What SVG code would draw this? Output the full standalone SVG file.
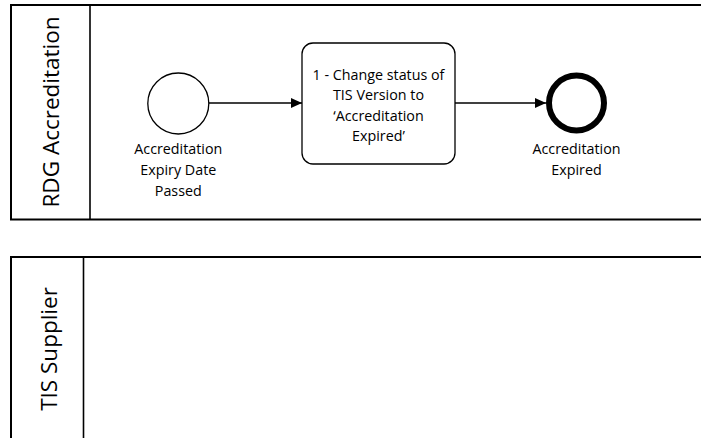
<svg xmlns="http://www.w3.org/2000/svg" width="701" height="438" viewBox="0 0 701 438">
<defs>
<style>
.lane{fill:none;stroke:#000;stroke-width:2}
.div{fill:none;stroke:#000;stroke-width:1.6}
.lt{font-family:"Open Sans",sans-serif;font-size:22.5px;fill:#000}
.t{font-family:"Open Sans",sans-serif;font-size:14.3px;fill:#000;text-anchor:middle}
.conn{fill:none;stroke:#000;stroke-width:1.3}
</style>
<marker id="ah" markerWidth="12" markerHeight="10" refX="11" refY="5" orient="auto" markerUnits="userSpaceOnUse">
<path d="M0,0 L11,5 L0,10 Z" fill="#000"/>
</marker>
</defs>
<rect width="701" height="438" fill="#fff"/>
<g id="lane-rdg">
<path class="lane" d="M710,5 H11 V219.5 H710"/>
<line class="div" x1="90" y1="5" x2="90" y2="219.5"/>
<text class="lt" transform="translate(58.5,112) rotate(-90)" text-anchor="middle">RDG Accreditation</text>
</g>
<g id="lane-tis">
<path class="lane" d="M710,257 H11 V450"/>
<line class="div" x1="83.5" y1="257" x2="83.5" y2="450"/>
<text class="lt" transform="translate(57,349) rotate(-90)" text-anchor="middle">TIS Supplier</text>
</g>
<g id="connectors">
<line class="conn" x1="209" y1="103" x2="302" y2="103" marker-end="url(#ah)"/>
<line class="conn" x1="455" y1="103" x2="546" y2="103" marker-end="url(#ah)"/>
</g>
<g id="start">
<circle cx="178.3" cy="103.5" r="30.5" fill="#fff" stroke="#000" stroke-width="1.3"/>
<text class="t"><tspan x="178.3" y="153.5">Accreditation</tspan><tspan x="178.3" y="175">Expiry Date</tspan><tspan x="178.3" y="196">Passed</tspan></text>
</g>
<g id="task1">
<rect x="302" y="43" width="153" height="121" rx="11" fill="#fff" stroke="#000" stroke-width="1.3"/>
<text class="t"><tspan x="378.5" y="79.5">1 - Change status of</tspan><tspan x="378.5" y="100">TIS Version to</tspan><tspan x="378.5" y="120.5">‘Accreditation</tspan><tspan x="378.5" y="141">Expired’</tspan></text>
</g>
<g id="end">
<circle cx="576.5" cy="103" r="27.5" fill="#fff" stroke="#000" stroke-width="6"/>
<text class="t"><tspan x="576.5" y="154">Accreditation</tspan><tspan x="576.5" y="175">Expired</tspan></text>
</g>
</svg>
